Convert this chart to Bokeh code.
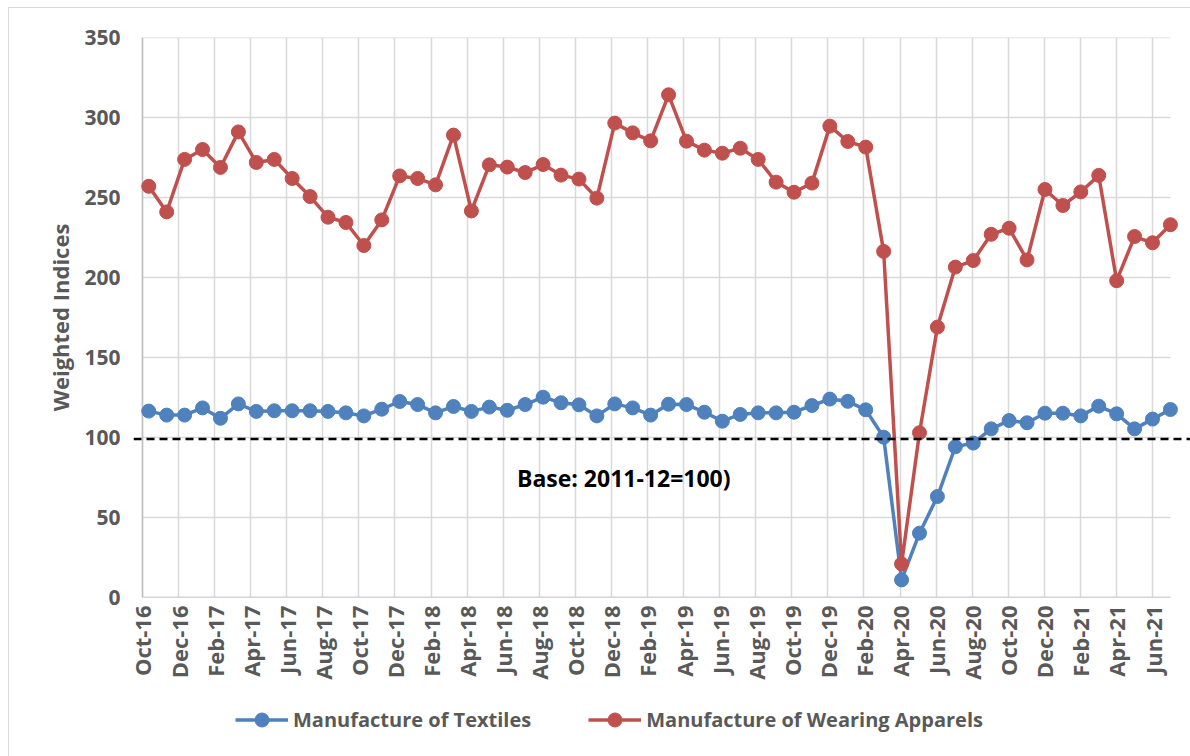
import numpy as np
from bokeh.plotting import figure
from bokeh.layouts import column
from bokeh.models import (FixedTicker, CustomJSTickFormatter, Legend, LegendItem,
                          Label, Range1d, Span)
from bokeh.embed import file_html
from bokeh.resources import INLINE

# ---------------- data ----------------
months = ["Oct-16", "Nov-16", "Dec-16",
          "Jan-17", "Feb-17", "Mar-17", "Apr-17", "May-17", "Jun-17",
          "Jul-17", "Aug-17", "Sep-17", "Oct-17", "Nov-17", "Dec-17",
          "Jan-18", "Feb-18", "Mar-18", "Apr-18", "May-18", "Jun-18",
          "Jul-18", "Aug-18", "Sep-18", "Oct-18", "Nov-18", "Dec-18",
          "Jan-19", "Feb-19", "Mar-19", "Apr-19", "May-19", "Jun-19",
          "Jul-19", "Aug-19", "Sep-19", "Oct-19", "Nov-19", "Dec-19",
          "Jan-20", "Feb-20", "Mar-20", "Apr-20", "May-20", "Jun-20",
          "Jul-20", "Aug-20", "Sep-20", "Oct-20", "Nov-20", "Dec-20",
          "Jan-21", "Feb-21", "Mar-21", "Apr-21", "May-21", "Jun-21",
          "Jul-21"]

textiles = [116.5, 114.0, 114.0, 118.5, 112.0, 121.0, 116.3, 116.7, 116.7,
            116.7, 116.3, 115.4, 113.5, 117.7, 122.5, 120.6, 115.4, 119.4,
            116.3, 119.0, 117.0, 120.6, 125.2, 121.7, 120.4, 113.5, 121.0,
            118.5, 114.0, 120.8, 120.6, 115.8, 110.2, 114.4, 115.4, 115.4,
            115.8, 120.0, 124.0, 122.6, 117.3, 100.2, 11.0, 40.2, 63.1,
            94.2, 96.5, 105.4, 110.6, 109.2, 115.2, 115.2, 113.5, 119.6,
            114.8, 105.4, 111.5, 117.5]

apparels = [257.0, 241.0, 273.8, 280.0, 268.8, 291.0, 271.9, 273.8, 261.9,
            250.6, 237.7, 234.4, 220.0, 236.0, 263.5, 261.9, 257.9, 289.0,
            241.6, 270.4, 269.0, 265.6, 270.6, 264.0, 261.5, 249.6, 296.5,
            290.4, 285.4, 314.2, 285.2, 279.6, 277.7, 280.8, 273.8, 259.6,
            253.3, 259.0, 294.6, 285.0, 281.5, 216.3, 21.0, 103.0, 169.0,
            206.5, 210.6, 227.0, 230.8, 211.0, 255.0, 245.0, 253.5, 263.8,
            198.0, 225.6, 221.7, 233.0]

tick_labels = months[::2]
y_ticks = [0, 50, 100, 150, 200, 250, 300, 350]
base_value = 99
base_note = "Base: 2011-12=100)"
series_names = ["Manufacture of Textiles", "Manufacture of Wearing Apparels"]

# ---------------- style ----------------
FONT = "Open Sans"
GREY_TXT = "#595959"
BLUE = "#4F81BD"
RED = "#C0504D"
GRID = "#d9d9d9"
AXIS = "#bfbfbf"

x = np.arange(len(months))
grid_start = -0.35
grid_step = 2.0125
x_right = float(x[-1])

p = figure(width=1181, height=684,
           x_range=Range1d(-0.852, 58.12), y_range=Range1d(0, 350),
           output_backend="svg", toolbar_location=None,
           min_border_left=124, min_border_right=0,
           min_border_top=29, min_border_bottom=95)
p.outline_line_color = None
p.background_fill_color = "white"
p.border_fill_color = "white"

# horizontal gridlines limited to plot area
p.segment(x0=grid_start, x1=x_right, y0=y_ticks, y1=y_ticks,
          line_color=GRID, line_width=1.5)
# axis lines
p.segment(x0=[grid_start, grid_start], y0=[0, 0], x1=[grid_start, x_right], y1=[350, 0],
          line_color=AXIS, line_width=1.5)

r1l = p.line(x, textiles, line_color=BLUE, line_width=3.5)
r1s = p.scatter(x, textiles, size=14, fill_color=BLUE, line_color=BLUE)
r2l = p.line(x, apparels, line_color=RED, line_width=3.5)
r2s = p.scatter(x, apparels, size=14, fill_color=RED, line_color=RED)

p.add_layout(Span(location=base_value, dimension="width", line_color="black",
                  line_width=2.5, line_dash="8 5"))

p.add_layout(Label(x=26.5, y=74.4, text=base_note, text_align="center",
                   text_baseline="middle", text_font=FONT, text_font_style="bold",
                   text_font_size="23px", text_color="black"))

# x axis
xticks = [grid_start + grid_step * k for k in range(len(tick_labels))]
p.xaxis.ticker = FixedTicker(ticks=xticks)
p.xaxis.formatter = CustomJSTickFormatter(
    args=dict(labels=tick_labels, start=grid_start, step=grid_step),
    code="return labels[Math.round((tick - start) / step)] || '';")
p.xaxis.major_label_orientation = np.pi / 2
p.xaxis.major_tick_out = 0
p.xaxis.major_tick_in = 0
p.xaxis.major_label_standoff = 8
p.xaxis.axis_line_color = None
p.xaxis.major_tick_line_color = None
p.xaxis.minor_tick_line_color = None
p.xaxis.major_label_text_font = FONT
p.xaxis.major_label_text_font_style = "bold"
p.xaxis.major_label_text_font_size = "22px"
p.xaxis.major_label_text_color = GREY_TXT

p.xgrid.grid_line_color = GRID
p.xgrid.grid_line_width = 1.5
p.ygrid.grid_line_color = None

# y axis
p.yaxis.ticker = FixedTicker(ticks=y_ticks)
p.yaxis.axis_line_color = None
p.yaxis.major_tick_line_color = None
p.yaxis.minor_tick_line_color = None
p.yaxis.major_tick_out = 0
p.yaxis.major_tick_in = 0
p.yaxis.major_label_standoff = 13
p.yaxis.major_label_text_font = FONT
p.yaxis.major_label_text_font_style = "bold"
p.yaxis.major_label_text_font_size = "21px"
p.yaxis.major_label_text_color = GREY_TXT
p.yaxis.axis_label = "Weighted Indices"
p.yaxis.axis_label_text_font = FONT
p.yaxis.axis_label_text_font_style = "bold"
p.yaxis.axis_label_text_font_size = "22px"
p.yaxis.axis_label_text_color = GREY_TXT
p.yaxis.axis_label_standoff = 6

# ---------------- legend strip (series drawn off-range; only legend shows) ----
pl = figure(width=1181, height=64, x_axis_type=None, y_axis_type=None,
            x_range=Range1d(1000, 1001), y_range=Range1d(1000, 1001),
            output_backend="svg", toolbar_location=None,
            min_border=0, min_border_left=0, min_border_right=0,
            min_border_top=0, min_border_bottom=0)
pl.outline_line_color = None
pl.grid.visible = False
pl.background_fill_color = "white"
pl.border_fill_color = "white"
l1l = pl.line(x, textiles, line_color=BLUE, line_width=3.5)
l1s = pl.scatter(x, textiles, size=14, fill_color=BLUE, line_color=BLUE)
l2l = pl.line(x, apparels, line_color=RED, line_width=3.5)
l2s = pl.scatter(x, apparels, size=14, fill_color=RED, line_color=RED)

legend = Legend(items=[LegendItem(label=series_names[0], renderers=[l1l, l1s]),
                       LegendItem(label=series_names[1], renderers=[l2l, l2s])],
                orientation="horizontal", location=(102, 19),
                glyph_width=53, glyph_height=35, label_standoff=5, spacing=57,
                padding=0, margin=0, border_line_color=None,
                background_fill_alpha=0,
                label_text_font=FONT, label_text_font_style="bold",
                label_text_font_size="20px", label_text_color=GREY_TXT)
pl.add_layout(legend)

layout = column(p, pl, spacing=0)
layout.styles = {"margin-left": "8px", "margin-top": "7px",
                 "border-left": "1px solid #d9d9d9", "border-top": "1px solid #d9d9d9"}

open("out.html", "w").write(file_html(layout, INLINE))
